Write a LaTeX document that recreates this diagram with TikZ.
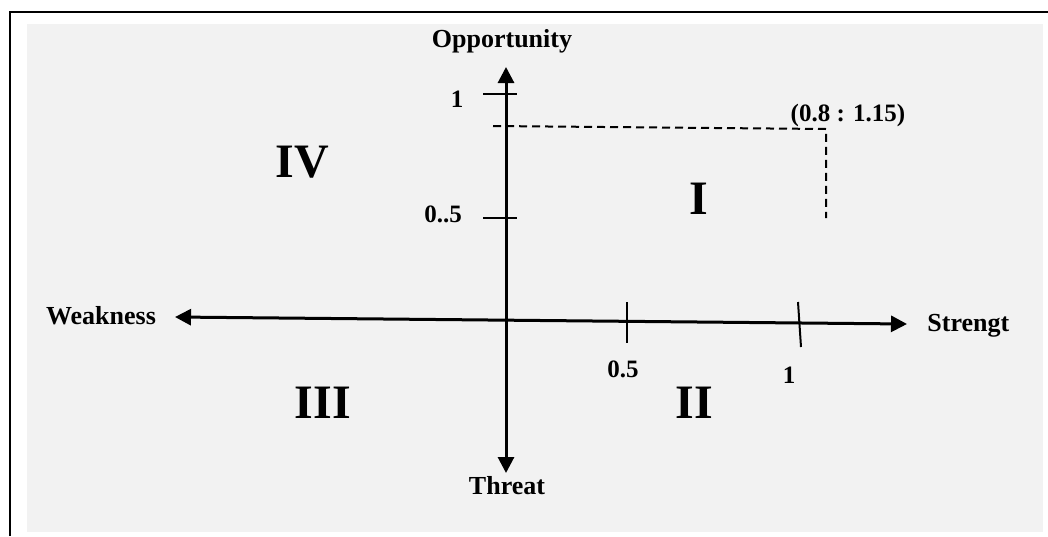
\documentclass[tikz,border=0pt]{standalone}
\usepackage{fontspec}
\setmainfont{Liberation Serif}
\usetikzlibrary{arrows.meta}
\definecolor{panel}{HTML}{F2F2F2}
\tikzset{
  >={Triangle[length=8pt,width=8pt]},
  axis/.style={<->,line width=1.5pt},
  tick/.style={line width=1pt},
  guide/.style={line width=1pt,dash pattern=on 4pt off 2.5pt},
  lbl/.style={inner sep=0pt,anchor=base,font=\fontsize{13}{15}\selectfont\bfseries},
  num/.style={lbl,font=\fontsize{12.5}{15}\selectfont\bfseries},
  quad/.style={lbl,font=\fontsize{24}{28}\selectfont\bfseries}
}
\begin{document}
\begin{tikzpicture}[x=0.5pt,y=-0.5pt]
\useasboundingbox (0,0) rectangle (1048,536);
% frame and panel
\fill[panel] (27,24) rectangle (1043,532);
\draw[line width=1pt] (10,536) -- (10,12) -- (1048,12);
% axes
\coordinate (opp) at (506,67);
\coordinate (thr) at (506,473);
\coordinate (wk) at (175,317);
\coordinate (st) at (907,324);
\draw[axis] (thr) -- (opp);
\draw[axis] (wk) -- (st);
% ticks
\draw[tick] (483,94) -- (517,94);
\draw[tick] (483,218) -- (517,218);
\draw[tick] (627,302) -- (627,343);
\draw[tick] (798,302) -- (801,347);
% point
\coordinate (py) at (493,126);
\coordinate (pt) at (826,129);
\coordinate (px) at (826,218);
\draw[guide] (py) -- (pt) -- (px);
% labels
\node[lbl] (lopp) at (502,47) {Opportunity};
\node[lbl] (lthr) at (507,494) {Threat};
\node[lbl] (lwk) at (101,324) {Weakness};
\node[lbl,anchor=base west] (lst) at (927,331) {Strengt};
\node[num] (y1) at (457,107) {1};
\node[num] (y05) at (443,222) {0..5};
\node[num] (x05) at (623,377) {0.5};
\node[num] (x1) at (789,383) {1};
\node[num] (lpt) at (848,121) {(0.8 : 1.15)};
% quadrants
\node[quad] (q1) at (699,214) {I};
\node[quad] (q2) at (694,418) {II};
\node[quad] (q3) at (323,418) {III};
\node[quad] (q4) at (302,177) {IV};
\end{tikzpicture}
\end{document}
